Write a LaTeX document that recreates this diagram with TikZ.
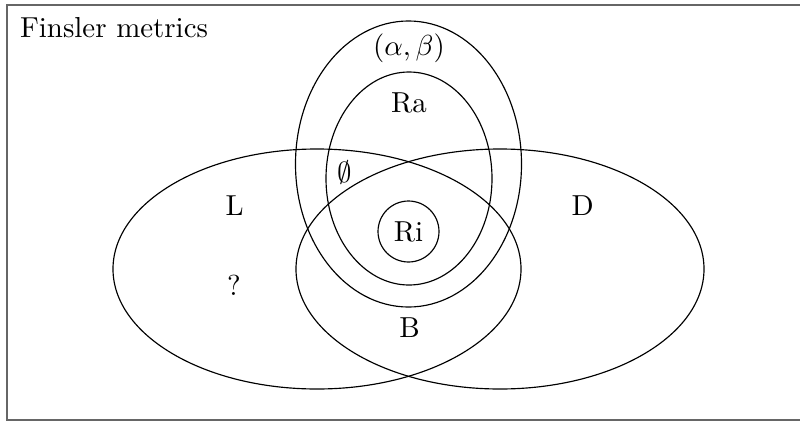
\documentclass[tikz,border=0pt]{standalone}
\usetikzlibrary{shapes.geometric}
\begin{document}
\begin{tikzpicture}[x=0.346pt,y=-0.346pt,
  setshape/.style={draw=black, line width=0.4pt, ellipse, inner sep=0pt},
  lbl/.style={anchor=base, inner sep=0pt}]
\useasboundingbox (0,0) rectangle (800,421);
\draw[black!60, line width=0.5pt] (7,5) rectangle (803,420);
\node[lbl, anchor=base west] (title) at (19.5,37.3) {Finsler metrics};
% sets
\node[setshape, minimum width=141.17pt, minimum height=83.04pt] (L) at (317,269) {};
\node[setshape, minimum width=141.17pt, minimum height=83.04pt] (D) at (500,269) {};
\node[setshape, minimum width=78.2pt, minimum height=98.96pt] (AB) at (408.5,164) {};
\node[setshape, minimum width=57.44pt, minimum height=73.7pt] (Ra) at (409,178.5) {};
\node[draw=black, line width=0.4pt, circle, inner sep=0pt, minimum size=21.1pt] (Ri) at (408.5,231.5) {Ri};
% labels
\node[lbl] (abl) at (409,55) {$(\alpha,\beta)$};
\node[lbl] (ral) at (409,112.5) {Ra};
\node[lbl] (el) at (345,182) {$\emptyset$};
\node[lbl] (ll) at (234.7,215) {L};
\node[lbl] (ql) at (234,295) {?};
\node[lbl] (dl) at (582.7,215.5) {D};
\node[lbl] (bl) at (409.5,337.3) {B};
\end{tikzpicture}
\end{document}
